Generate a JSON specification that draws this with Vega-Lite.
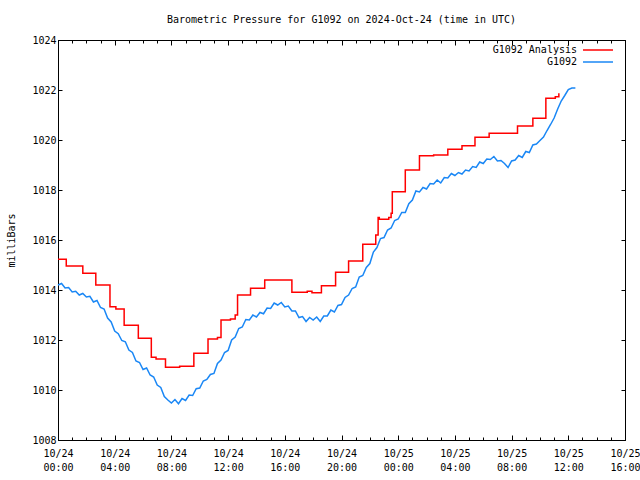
{
  "$schema": "https://vega.github.io/schema/vega-lite/v6.json",
  "width": 567,
  "height": 400,
  "autosize": {"type": "none"},
  "padding": {"left": 58, "top": 40, "right": 15, "bottom": 40},
  "background": "white",
  "title": {"text": "Barometric Pressure for G1092 on 2024-Oct-24 (time in UTC)", "font": "DejaVu Sans Mono", "fontSize": 10, "fontWeight": "normal", "color": "black", "anchor": "middle", "frame": "group", "offset": 10},
  "datasets": {
    "analysis": [
      {"t": "2024-10-24T00:00:00Z", "v": 1015.23},
      {"t": "2024-10-24T00:35:00Z", "v": 1014.96},
      {"t": "2024-10-24T01:45:00Z", "v": 1014.67},
      {"t": "2024-10-24T02:40:00Z", "v": 1014.2},
      {"t": "2024-10-24T03:40:00Z", "v": 1013.33},
      {"t": "2024-10-24T04:05:00Z", "v": 1013.24},
      {"t": "2024-10-24T04:40:00Z", "v": 1012.59},
      {"t": "2024-10-24T05:40:00Z", "v": 1012.07},
      {"t": "2024-10-24T06:35:00Z", "v": 1011.31},
      {"t": "2024-10-24T06:55:00Z", "v": 1011.24},
      {"t": "2024-10-24T07:35:00Z", "v": 1010.91},
      {"t": "2024-10-24T08:35:00Z", "v": 1010.95},
      {"t": "2024-10-24T09:35:00Z", "v": 1011.47},
      {"t": "2024-10-24T10:35:00Z", "v": 1012.04},
      {"t": "2024-10-24T11:15:00Z", "v": 1012.1},
      {"t": "2024-10-24T11:30:00Z", "v": 1012.8},
      {"t": "2024-10-24T12:10:00Z", "v": 1012.84},
      {"t": "2024-10-24T12:30:00Z", "v": 1013.0},
      {"t": "2024-10-24T12:40:00Z", "v": 1013.8},
      {"t": "2024-10-24T13:35:00Z", "v": 1014.07},
      {"t": "2024-10-24T14:35:00Z", "v": 1014.4},
      {"t": "2024-10-24T16:30:00Z", "v": 1013.91},
      {"t": "2024-10-24T17:35:00Z", "v": 1013.95},
      {"t": "2024-10-24T17:55:00Z", "v": 1013.89},
      {"t": "2024-10-24T18:35:00Z", "v": 1014.17},
      {"t": "2024-10-24T19:35:00Z", "v": 1014.71},
      {"t": "2024-10-24T20:30:00Z", "v": 1015.16},
      {"t": "2024-10-24T21:30:00Z", "v": 1015.83},
      {"t": "2024-10-24T22:25:00Z", "v": 1016.2},
      {"t": "2024-10-24T22:35:00Z", "v": 1016.9},
      {"t": "2024-10-24T22:40:00Z", "v": 1016.83},
      {"t": "2024-10-24T23:20:00Z", "v": 1016.9},
      {"t": "2024-10-24T23:30:00Z", "v": 1017.07},
      {"t": "2024-10-24T23:35:00Z", "v": 1017.93},
      {"t": "2024-10-25T00:30:00Z", "v": 1018.8},
      {"t": "2024-10-25T01:30:00Z", "v": 1019.37},
      {"t": "2024-10-25T02:30:00Z", "v": 1019.4},
      {"t": "2024-10-25T03:30:00Z", "v": 1019.63},
      {"t": "2024-10-25T04:30:00Z", "v": 1019.77},
      {"t": "2024-10-25T05:25:00Z", "v": 1020.11},
      {"t": "2024-10-25T06:25:00Z", "v": 1020.27},
      {"t": "2024-10-25T08:25:00Z", "v": 1020.56},
      {"t": "2024-10-25T09:30:00Z", "v": 1020.87},
      {"t": "2024-10-25T10:25:00Z", "v": 1021.67},
      {"t": "2024-10-25T11:05:00Z", "v": 1021.73},
      {"t": "2024-10-25T11:20:00Z", "v": 1021.87}
    ],
    "obs": [
      {"t": "2024-10-24T00:00:00Z", "v": 1014.2},
      {"t": "2024-10-24T00:15:00Z", "v": 1014.26},
      {"t": "2024-10-24T00:30:00Z", "v": 1014.08},
      {"t": "2024-10-24T00:45:00Z", "v": 1014.1},
      {"t": "2024-10-24T01:00:00Z", "v": 1013.92},
      {"t": "2024-10-24T01:15:00Z", "v": 1013.95},
      {"t": "2024-10-24T01:30:00Z", "v": 1013.8},
      {"t": "2024-10-24T01:45:00Z", "v": 1013.86},
      {"t": "2024-10-24T02:00:00Z", "v": 1013.72},
      {"t": "2024-10-24T02:15:00Z", "v": 1013.75},
      {"t": "2024-10-24T02:30:00Z", "v": 1013.52},
      {"t": "2024-10-24T02:45:00Z", "v": 1013.58},
      {"t": "2024-10-24T03:00:00Z", "v": 1013.3},
      {"t": "2024-10-24T03:15:00Z", "v": 1013.24},
      {"t": "2024-10-24T03:30:00Z", "v": 1012.88},
      {"t": "2024-10-24T03:45:00Z", "v": 1012.72},
      {"t": "2024-10-24T04:00:00Z", "v": 1012.36},
      {"t": "2024-10-24T04:15:00Z", "v": 1012.25},
      {"t": "2024-10-24T04:30:00Z", "v": 1011.98},
      {"t": "2024-10-24T04:45:00Z", "v": 1011.93},
      {"t": "2024-10-24T05:00:00Z", "v": 1011.6},
      {"t": "2024-10-24T05:15:00Z", "v": 1011.5},
      {"t": "2024-10-24T05:30:00Z", "v": 1011.16},
      {"t": "2024-10-24T05:45:00Z", "v": 1011.1},
      {"t": "2024-10-24T06:00:00Z", "v": 1010.82},
      {"t": "2024-10-24T06:15:00Z", "v": 1010.88},
      {"t": "2024-10-24T06:30:00Z", "v": 1010.6},
      {"t": "2024-10-24T06:45:00Z", "v": 1010.52},
      {"t": "2024-10-24T07:00:00Z", "v": 1010.2},
      {"t": "2024-10-24T07:15:00Z", "v": 1010.1},
      {"t": "2024-10-24T07:30:00Z", "v": 1009.74},
      {"t": "2024-10-24T07:45:00Z", "v": 1009.6},
      {"t": "2024-10-24T08:00:00Z", "v": 1009.48},
      {"t": "2024-10-24T08:15:00Z", "v": 1009.62},
      {"t": "2024-10-24T08:30:00Z", "v": 1009.45},
      {"t": "2024-10-24T08:45:00Z", "v": 1009.66},
      {"t": "2024-10-24T09:00:00Z", "v": 1009.58},
      {"t": "2024-10-24T09:15:00Z", "v": 1009.8},
      {"t": "2024-10-24T09:30:00Z", "v": 1009.78},
      {"t": "2024-10-24T09:45:00Z", "v": 1010.05},
      {"t": "2024-10-24T10:00:00Z", "v": 1010.08},
      {"t": "2024-10-24T10:15:00Z", "v": 1010.36},
      {"t": "2024-10-24T10:30:00Z", "v": 1010.42},
      {"t": "2024-10-24T10:45:00Z", "v": 1010.62},
      {"t": "2024-10-24T11:00:00Z", "v": 1010.66},
      {"t": "2024-10-24T11:15:00Z", "v": 1011.06},
      {"t": "2024-10-24T11:30:00Z", "v": 1011.2},
      {"t": "2024-10-24T11:45:00Z", "v": 1011.5},
      {"t": "2024-10-24T12:00:00Z", "v": 1011.58},
      {"t": "2024-10-24T12:15:00Z", "v": 1012.0},
      {"t": "2024-10-24T12:30:00Z", "v": 1012.12},
      {"t": "2024-10-24T12:45:00Z", "v": 1012.46},
      {"t": "2024-10-24T13:00:00Z", "v": 1012.52},
      {"t": "2024-10-24T13:15:00Z", "v": 1012.82},
      {"t": "2024-10-24T13:30:00Z", "v": 1012.8},
      {"t": "2024-10-24T13:45:00Z", "v": 1013.0},
      {"t": "2024-10-24T14:00:00Z", "v": 1012.92},
      {"t": "2024-10-24T14:15:00Z", "v": 1013.1},
      {"t": "2024-10-24T14:30:00Z", "v": 1013.05},
      {"t": "2024-10-24T14:45:00Z", "v": 1013.28},
      {"t": "2024-10-24T15:00:00Z", "v": 1013.26},
      {"t": "2024-10-24T15:15:00Z", "v": 1013.48},
      {"t": "2024-10-24T15:30:00Z", "v": 1013.4},
      {"t": "2024-10-24T15:45:00Z", "v": 1013.5},
      {"t": "2024-10-24T16:00:00Z", "v": 1013.32},
      {"t": "2024-10-24T16:15:00Z", "v": 1013.36},
      {"t": "2024-10-24T16:30:00Z", "v": 1013.16},
      {"t": "2024-10-24T16:45:00Z", "v": 1013.16},
      {"t": "2024-10-24T17:00:00Z", "v": 1012.9},
      {"t": "2024-10-24T17:15:00Z", "v": 1012.94},
      {"t": "2024-10-24T17:30:00Z", "v": 1012.74},
      {"t": "2024-10-24T17:45:00Z", "v": 1012.9},
      {"t": "2024-10-24T18:00:00Z", "v": 1012.8},
      {"t": "2024-10-24T18:15:00Z", "v": 1012.92},
      {"t": "2024-10-24T18:30:00Z", "v": 1012.74},
      {"t": "2024-10-24T18:45:00Z", "v": 1012.96},
      {"t": "2024-10-24T19:00:00Z", "v": 1012.96},
      {"t": "2024-10-24T19:15:00Z", "v": 1013.2},
      {"t": "2024-10-24T19:30:00Z", "v": 1013.12},
      {"t": "2024-10-24T19:45:00Z", "v": 1013.38},
      {"t": "2024-10-24T20:00:00Z", "v": 1013.42},
      {"t": "2024-10-24T20:15:00Z", "v": 1013.7},
      {"t": "2024-10-24T20:30:00Z", "v": 1013.8},
      {"t": "2024-10-24T20:45:00Z", "v": 1014.06},
      {"t": "2024-10-24T21:00:00Z", "v": 1014.12},
      {"t": "2024-10-24T21:15:00Z", "v": 1014.52},
      {"t": "2024-10-24T21:30:00Z", "v": 1014.58},
      {"t": "2024-10-24T21:45:00Z", "v": 1014.9},
      {"t": "2024-10-24T22:00:00Z", "v": 1015.06},
      {"t": "2024-10-24T22:15:00Z", "v": 1015.52},
      {"t": "2024-10-24T22:30:00Z", "v": 1015.7},
      {"t": "2024-10-24T22:45:00Z", "v": 1016.06},
      {"t": "2024-10-24T23:00:00Z", "v": 1016.1},
      {"t": "2024-10-24T23:15:00Z", "v": 1016.4},
      {"t": "2024-10-24T23:30:00Z", "v": 1016.48},
      {"t": "2024-10-24T23:45:00Z", "v": 1016.78},
      {"t": "2024-10-25T00:00:00Z", "v": 1016.84},
      {"t": "2024-10-25T00:15:00Z", "v": 1017.1},
      {"t": "2024-10-25T00:30:00Z", "v": 1017.1},
      {"t": "2024-10-25T00:45:00Z", "v": 1017.45},
      {"t": "2024-10-25T01:00:00Z", "v": 1017.6},
      {"t": "2024-10-25T01:15:00Z", "v": 1017.96},
      {"t": "2024-10-25T01:30:00Z", "v": 1017.92},
      {"t": "2024-10-25T01:45:00Z", "v": 1018.1},
      {"t": "2024-10-25T02:00:00Z", "v": 1018.04},
      {"t": "2024-10-25T02:15:00Z", "v": 1018.26},
      {"t": "2024-10-25T02:30:00Z", "v": 1018.24},
      {"t": "2024-10-25T02:45:00Z", "v": 1018.4},
      {"t": "2024-10-25T03:00:00Z", "v": 1018.28},
      {"t": "2024-10-25T03:15:00Z", "v": 1018.5},
      {"t": "2024-10-25T03:30:00Z", "v": 1018.48},
      {"t": "2024-10-25T03:45:00Z", "v": 1018.66},
      {"t": "2024-10-25T04:00:00Z", "v": 1018.58},
      {"t": "2024-10-25T04:15:00Z", "v": 1018.7},
      {"t": "2024-10-25T04:30:00Z", "v": 1018.64},
      {"t": "2024-10-25T04:45:00Z", "v": 1018.8},
      {"t": "2024-10-25T05:00:00Z", "v": 1018.76},
      {"t": "2024-10-25T05:15:00Z", "v": 1018.94},
      {"t": "2024-10-25T05:30:00Z", "v": 1018.9},
      {"t": "2024-10-25T05:45:00Z", "v": 1019.12},
      {"t": "2024-10-25T06:00:00Z", "v": 1019.06},
      {"t": "2024-10-25T06:15:00Z", "v": 1019.24},
      {"t": "2024-10-25T06:30:00Z", "v": 1019.22},
      {"t": "2024-10-25T06:45:00Z", "v": 1019.34},
      {"t": "2024-10-25T07:00:00Z", "v": 1019.16},
      {"t": "2024-10-25T07:15:00Z", "v": 1019.18},
      {"t": "2024-10-25T07:30:00Z", "v": 1019.06},
      {"t": "2024-10-25T07:45:00Z", "v": 1018.9},
      {"t": "2024-10-25T08:00:00Z", "v": 1019.16},
      {"t": "2024-10-25T08:15:00Z", "v": 1019.2},
      {"t": "2024-10-25T08:30:00Z", "v": 1019.38},
      {"t": "2024-10-25T08:45:00Z", "v": 1019.3},
      {"t": "2024-10-25T09:00:00Z", "v": 1019.54},
      {"t": "2024-10-25T09:15:00Z", "v": 1019.5},
      {"t": "2024-10-25T09:30:00Z", "v": 1019.8},
      {"t": "2024-10-25T09:45:00Z", "v": 1019.84},
      {"t": "2024-10-25T10:00:00Z", "v": 1019.98},
      {"t": "2024-10-25T10:15:00Z", "v": 1020.12},
      {"t": "2024-10-25T10:30:00Z", "v": 1020.38},
      {"t": "2024-10-25T10:45:00Z", "v": 1020.62},
      {"t": "2024-10-25T11:00:00Z", "v": 1020.88},
      {"t": "2024-10-25T11:15:00Z", "v": 1021.24},
      {"t": "2024-10-25T11:30:00Z", "v": 1021.56},
      {"t": "2024-10-25T11:45:00Z", "v": 1021.78},
      {"t": "2024-10-25T12:00:00Z", "v": 1022.02},
      {"t": "2024-10-25T12:15:00Z", "v": 1022.08},
      {"t": "2024-10-25T12:30:00Z", "v": 1022.08}
    ]
  },
  "resolve": {"axis": {"x": "independent", "y": "independent"}},
  "layer": [
    {
      "data": {"name": "analysis"},
      "mark": {"type": "line", "interpolate": "step-after", "strokeWidth": 1.5},
      "encoding": {
        "x": {"field": "t", "type": "temporal", "scale": {"type": "utc", "domain": [1729728000000, 1729872000000], "nice": false}, "axis": null},
        "y": {"field": "v", "type": "quantitative", "scale": {"domain": [1008, 1024], "nice": false, "zero": false}, "axis": null},
        "color": {"datum": "G1092 Analysis", "type": "nominal", "scale": {"domain": ["G1092 Analysis", "G1092"], "range": ["#ff0000", "#1a87f5"]},
          "legend": {"title": null, "orient": "none", "legendX": 429, "legendY": 4, "padding": 0, "labelAlign": "right", "labelOffset": 78, "symbolType": "M18,0H24", "symbolSize": 100, "symbolStrokeWidth": 1.5, "rowPadding": 1}}
      }
    },
    {
      "data": {"name": "obs"},
      "mark": {"type": "line", "strokeWidth": 1.5},
      "encoding": {
        "x": {"field": "t", "type": "temporal", "scale": {"type": "utc", "domain": [1729728000000, 1729872000000], "nice": false},
          "axis": {"orient": "bottom", "title": null,
            "values": [1729728000000,1729731600000,1729735200000,1729738800000,1729742400000,1729746000000,1729749600000,1729753200000,1729756800000,1729760400000,1729764000000,1729767600000,1729771200000,1729774800000,1729778400000,1729782000000,1729785600000,1729789200000,1729792800000,1729796400000,1729800000000,1729803600000,1729807200000,1729810800000,1729814400000,1729818000000,1729821600000,1729825200000,1729828800000,1729832400000,1729836000000,1729839600000,1729843200000,1729846800000,1729850400000,1729854000000,1729857600000,1729861200000,1729864800000,1729868400000,1729872000000],
            "labelExpr": "utchours(datum.value) % 4 == 0 ? [utcFormat(datum.value, '%m/%d'), utcFormat(datum.value, '%H:%M')] : ''",
            "tickSize": {"condition": {"test": "utchours(datum.value) % 4 == 0", "value": -5}, "value": -3},
            "labelPadding": 13, "labelLineHeight": 14, "labelFlush": false, "labelOverlap": false, "labelBound": false}},
        "y": {"field": "v", "type": "quantitative", "scale": {"domain": [1008, 1024], "nice": false, "zero": false},
          "axis": {"orient": "left", "title": "milliBars", "format": "d", "values": [1008,1010,1012,1014,1016,1018,1020,1022,1024], "tickSize": -4, "labelPadding": 6, "titlePadding": 15, "labelFlush": false, "labelOverlap": false, "labelBound": false}},
        "color": {"datum": "G1092", "type": "nominal", "scale": {"domain": ["G1092 Analysis", "G1092"], "range": ["#ff0000", "#1a87f5"]},
          "legend": {"title": null, "orient": "none", "legendX": 429, "legendY": 4, "padding": 0, "labelAlign": "right", "labelOffset": 78, "symbolType": "M18,0H24", "symbolSize": 100, "symbolStrokeWidth": 1.5, "rowPadding": 1}}
      }
    },
    {
      "data": {"name": "obs"},
      "mark": {"type": "line", "strokeOpacity": 0},
      "encoding": {
        "x": {"field": "t", "type": "temporal", "scale": {"type": "utc", "domain": [1729728000000, 1729872000000], "nice": false},
          "axis": {"orient": "top", "title": null, "labels": false,
            "values": [1729728000000,1729731600000,1729735200000,1729738800000,1729742400000,1729746000000,1729749600000,1729753200000,1729756800000,1729760400000,1729764000000,1729767600000,1729771200000,1729774800000,1729778400000,1729782000000,1729785600000,1729789200000,1729792800000,1729796400000,1729800000000,1729803600000,1729807200000,1729810800000,1729814400000,1729818000000,1729821600000,1729825200000,1729828800000,1729832400000,1729836000000,1729839600000,1729843200000,1729846800000,1729850400000,1729854000000,1729857600000,1729861200000,1729864800000,1729868400000,1729872000000],
            "tickSize": {"condition": {"test": "utchours(datum.value) % 4 == 0", "value": -5}, "value": -3}}},
        "y": {"field": "v", "type": "quantitative", "scale": {"domain": [1008, 1024], "nice": false, "zero": false},
          "axis": {"orient": "right", "title": null, "labels": false, "values": [1008,1010,1012,1014,1016,1018,1020,1022,1024], "tickSize": -4}}
      }
    }
  ],
  "config": {
    "font": "DejaVu Sans Mono",
    "view": {"stroke": "black", "strokeWidth": 1},
    "axis": {"domainColor": "black", "tickColor": "black", "labelColor": "black", "titleColor": "black", "labelFont": "DejaVu Sans Mono", "labelFontSize": 10, "titleFont": "DejaVu Sans Mono", "titleFontSize": 10, "titleFontWeight": "normal", "grid": false, "tickWidth": 1, "domainWidth": 1},
    "legend": {"labelFont": "DejaVu Sans Mono", "labelFontSize": 10, "labelColor": "black"}
  }
}
